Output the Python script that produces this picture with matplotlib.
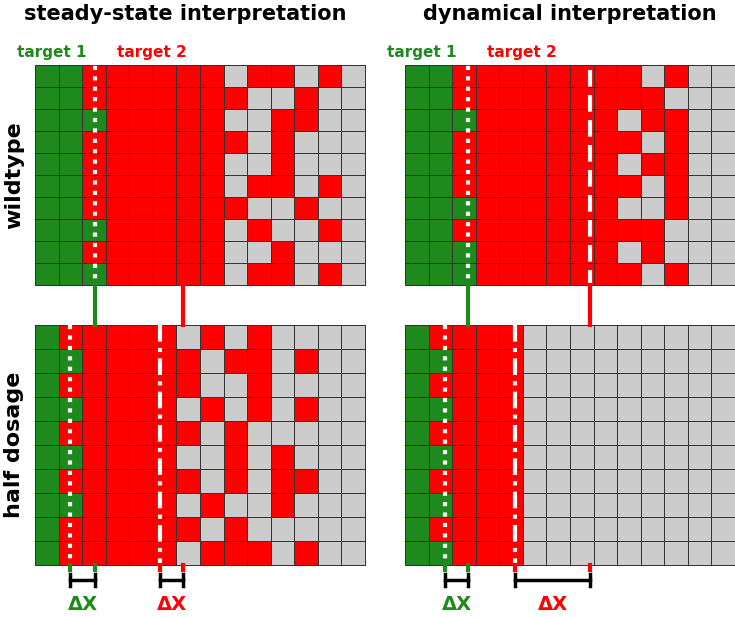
import numpy as np
import matplotlib.pyplot as plt
from matplotlib.colors import ListedColormap

# cell states per row: g = target 1, r = target 2, . = none
wt_steady = [
    "ggrrrrrr.rr.r.",
    "ggrrrrrrr..r..",
    "gggrrrrr..rr..",
    "ggrrrrrrr.r...",
    "ggrrrrrr..r...",
    "ggrrrrrr.rr.r.",
    "ggrrrrrrr..r..",
    "gggrrrrr.r..r.",
    "ggrrrrrr..r...",
    "gggrrrrr.rr.r.",
]
wt_dynamic = [
    "ggrrrrrrrr.r..",
    "ggrrrrrrrrr...",
    "gggrrrrrr.rr..",
    "ggrrrrrrrr.r..",
    "ggrrrrrrr.rr..",
    "ggrrrrrrrr.r..",
    "gggrrrrrr..r..",
    "ggrrrrrrrrr...",
    "gggrrrrrr.r...",
    "gggrrrrrrr.r..",
]
hd_steady = [
    "grrrrr.r.r....",
    "ggrrrrr.rr.r..",
    "grrrrrr..r....",
    "ggrrrr.r.r.r..",
    "grrrrrr.r.....",
    "ggrrrr..r.r...",
    "grrrrrr.r.rr..",
    "ggrrrr.r..r...",
    "grrrrrr.r.....",
    "grrrrr.rrr.r..",
]
hd_dynamic = [
    "grrrr.........",
    "ggrrr.........",
    "grrrr.........",
    "ggrrr.........",
    "grrrr.........",
    "ggrrr.........",
    "grrrr.........",
    "ggrrr.........",
    "grrrr.........",
    "ggrrr.........",
]
titles = ["steady-state interpretation", "dynamical interpretation"]
row_labels = ["wildtype", "half dosage"]

GREEN = "#1e8a1e"
RED = "#ff0000"
GRAY = "#cccccc"
cmap = ListedColormap([GRAY, GREEN, RED])
code = {".": 0, "g": 1, "r": 2}

fig = plt.figure(figsize=(7.35, 6.17), dpi=100)
ax = fig.add_axes([0, 0, 1, 1])
ax.set_xlim(0, 735)
ax.set_ylim(617, 0)
ax.axis("off")

TOP = (65, 285)
BOT = (325, 565)
panels = [(wt_steady, 35, TOP), (wt_dynamic, 405, TOP),
          (hd_steady, 35, BOT), (hd_dynamic, 405, BOT)]
for grid, x0, (y0, y1) in panels:
    C = np.array([[code[c] for c in row] for row in grid])
    X = np.linspace(x0, x0 + 330, C.shape[1] + 1)
    Y = np.linspace(y0, y1, C.shape[0] + 1)
    ax.pcolormesh(X, Y, C, cmap=cmap, vmin=0, vmax=2,
                  edgecolors="#333333", linewidth=0.6)

# boundary lines (x positions of target borders)
bounds = {  # (green_top, red_top, green_bottom, red_bottom)
    0: (95, 183, 70, 160),
    1: (468, 590, 445, 515),
}
for i, (gt, rt, gb, rb) in bounds.items():
    ax.plot([gt, gt], [45, 285], color="white", lw=3, ls=(0, (1, 1.5)))
    ax.plot([gb, gb], BOT, color="white", lw=3, ls=(0, (1, 1.5)))
    if i == 1:
        ax.plot([rt, rt], [45, 285], color="white", lw=3, ls=(0, (4, 2)))
    ax.plot([rb, rb], BOT, color="white", lw=3, ls=(0, (4, 1.5, 1, 1.5)))
    ax.plot([gt, gt], [285, 325], color=GREEN, lw=3)
    ax.plot([rt, rt], [285, 325], color=RED, lw=3)
    ax.plot([gt, gt], [565, 570], color=GREEN, lw=3)
    ax.plot([gb, gb], [565, 570], color=GREEN, lw=3)
    ax.plot([rt, rt], [565, 570], color=RED, lw=3)
    ax.plot([rb, rb], [565, 570], color=RED, lw=3)
    for a, b, col in ((gb, gt, GREEN), (rb, rt, RED)):
        ax.plot([a, b], [580, 580], color="black", lw=2.5)
        ax.plot([a, a], [574, 586], color="black", lw=2.5)
        ax.plot([b, b], [574, 586], color="black", lw=2.5)
        ax.text((a + b) / 2, 604, "ΔX", color=col, fontsize=14,
                fontweight="bold", ha="center", va="center")

for i, t in enumerate(titles):
    ax.text(185 + 385 * i, 14, t, fontsize=15, fontweight="bold",
            ha="center", va="center")
    ax.text(52 + 370 * i, 52, "target 1", color=GREEN, fontsize=11,
            fontweight="bold", ha="center", va="center")
    ax.text(152 + 370 * i, 52, "target 2", color=RED, fontsize=11,
            fontweight="bold", ha="center", va="center")
for j, t in enumerate(row_labels):
    ax.text(14, 175 + 270 * j, t, fontsize=16, fontweight="bold",
            rotation=90, ha="center", va="center")

fig.savefig("out.png", dpi=100)
